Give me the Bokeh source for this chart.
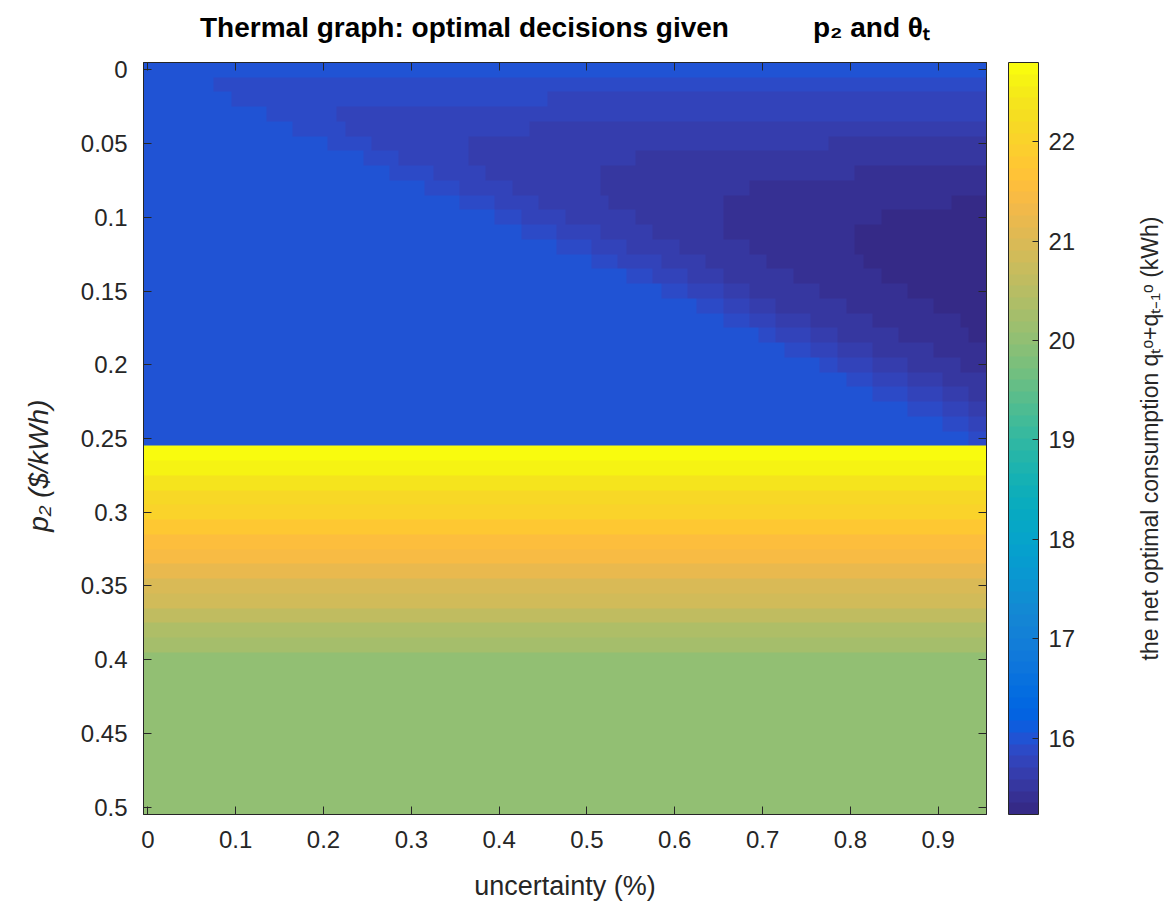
import numpy as np
from bokeh.plotting import figure
from bokeh.layouts import row
from bokeh.models import (LinearColorMapper, ColorBar, FixedTicker, Range1d,
                          LinearAxis)
from bokeh.embed import file_html
from bokeh.resources import INLINE

# ---------------- data ----------------
uncertainty = [round(0.01 * i, 2) for i in range(96)]   # 0 .. 0.95 (grid columns)
p2 = [round(0.01 * j, 2) for j in range(51)]            # 0 .. 0.50 (grid rows)

# p2 = 0 .. 0.25 : consumption levels (kWh), lightest blue -> darkest
blue_levels = [16.00, 15.88, 15.76, 15.64, 15.53, 15.41, 15.29]
# for every p2 row 0 .. 0.25: uncertainty at which each darker level begins (None = never)
N = None
start_L1 = [N, .08, .10, .14, .17, .21, .25, .28, .32, .36, .40, .43, .47, .51, .55, .59, .63, .66, .70, .73, .77, .80, .83, .87, .91, .94]
start_L2 = [N, N, .46, .22, .23, .26, .29, .33, .36, .40, .43, .47, .51, .54, .58, .62, .66, .69, .72, .76, .79, .83, .87, .91, .94, N]
start_L3 = [N, N, N, N, .44, .37, .37, .39, .42, .45, .48, .52, .55, .59, .62, .66, .69, .72, .76, .79, .83, .87, .91, .94, N, N]
start_L4 = [N, N, N, N, N, .78, .56, .52, .52, .53, .56, .58, .61, .64, .66, .69, .72, .76, .79, .83, .87, .91, .94, N, N, N]
start_L5 = [N, N, N, N, N, N, N, .81, .69, .66, .66, .66, .69, .71, .74, .77, .80, .83, .86, .90, .93, N, N, N, N, N]
start_L6 = [N, N, N, N, N, N, N, N, N, .92, .84, .81, .81, .82, .84, .87, .90, .93, .94, N, N, N, N, N, N, N]

# p2 = 0.26 .. 0.50 : consumption (kWh), same for every uncertainty
high_price = [22.74, 22.62, 22.39, 22.15, 22.03, 21.79, 21.56, 21.44, 21.20,
              20.97, 20.85, 20.61, 20.37, 20.26,
              20.02, 20.02, 20.02, 20.02, 20.02, 20.02, 20.02, 20.02, 20.02, 20.02, 20.02]

cbar_low, cbar_high = 15.23, 22.80
cbar_ticks = [16, 17, 18, 19, 20, 21, 22]
x_ticks = [0, 0.1, 0.2, 0.3, 0.4, 0.5, 0.6, 0.7, 0.8, 0.9]
y_ticks = [0, 0.05, 0.1, 0.15, 0.2, 0.25, 0.3, 0.35, 0.4, 0.45, 0.5]

title_text = "Thermal graph: optimal decisions given\u2003\u2003\u2003p\u2082 and \u03b8\u209c"
x_label = "uncertainty (%)"
y_label = "p\u2082 ($/kWh)" + "\u00a0" * 7
cbar_label = "the net optimal consumption q\u209c\u1d52+q\u209c\u208b\u2081\u1d52 (kWh)"

# MATLAB parula (64 colours)
parula = [
    "#352a87", "#363093", "#3637a0", "#353dad", "#3243ba", "#2c4ac7", "#2053d4", "#0f5cdd",
    "#0363e1", "#0268e1", "#046de0", "#0871de", "#0d75dc", "#1079da", "#127dd8", "#1381d6",
    "#1485d4", "#1389d3", "#108ed2", "#0c93d2", "#0998d1", "#079ccf", "#06a0cd", "#06a4ca",
    "#06a7c6", "#07a9c2", "#0aacbe", "#0faeb9", "#15b1b4", "#1db3af", "#25b5a9", "#2eb7a4",
    "#38b99e", "#42bb98", "#4dbc92", "#59bd8c", "#65be86", "#71bf80", "#7cbf7b", "#87bf77",
    "#92bf73", "#9cbf6f", "#a5be6b", "#aebe67", "#b7bd64", "#c0bc60", "#c8bc5d", "#d1bb59",
    "#d9ba56", "#e1b952", "#e9b94e", "#f1b94a", "#f8bb44", "#fdbe3d", "#ffc337", "#fec832",
    "#fcce2e", "#fad32a", "#f7d826", "#f5de21", "#f5e41d", "#f5eb18", "#f6f313", "#f9fb0e",
]

# ---------------- build the grid ----------------
starts = [start_L1, start_L2, start_L3, start_L4, start_L5, start_L6]
Z = []
for j in range(len(p2)):
    if j < len(start_L1):
        row_vals = []
        for x in uncertainty:
            lvl = sum(1 for s in starts if s[j] is not None and x >= s[j] - 1e-9)
            row_vals.append(blue_levels[lvl])
    else:
        row_vals = [high_price[j - len(start_L1)]] * len(uncertainty)
    Z.append(row_vals)
Z = np.array(Z, dtype=float)

dx = uncertainty[1] - uncertainty[0]
dy = p2[1] - p2[0]
x0 = uncertainty[0] - dx / 2
y0 = p2[0] - dy / 2
dw = len(uncertainty) * dx
dh = len(p2) * dy

FONT = "Liberation Sans"
AX = "#262626"
H = 906

p = figure(width=1130, height=H, output_backend="svg", toolbar_location=None,
           x_range=Range1d(x0, x0 + dw), y_range=Range1d(y0 + dh, y0),
           min_border_left=143, min_border_right=144, min_border_top=62,
           min_border_bottom=H - 62 - 752)
p.outline_line_color = AX
p.outline_line_width = 1
p.grid.visible = False

mapper = LinearColorMapper(palette=parula, low=cbar_low, high=cbar_high)
p.image(image=[Z], x=x0, y=y0, dw=dw, dh=dh, color_mapper=mapper)

def style_axis(ax, ticks, show_labels=True):
    ax.ticker = FixedTicker(ticks=ticks)
    ax.axis_line_color = AX
    ax.major_tick_line_color = AX
    ax.major_tick_in = 8
    ax.major_tick_out = 0
    ax.minor_tick_line_color = None
    ax.major_label_text_font = FONT
    if show_labels:
        ax.major_label_overrides = {t: f"{t:g}" for t in ticks}
        ax.major_label_text_font_size = "24px"
        ax.major_label_text_color = AX
    else:
        ax.major_label_text_font_size = "0px"
        ax.major_label_text_color = None
        ax.major_label_standoff = 0

style_axis(p.xaxis[0], x_ticks)
style_axis(p.yaxis[0], y_ticks)
p.xaxis.major_label_standoff = 16
p.yaxis.major_label_standoff = 16
p.xaxis.axis_label = x_label
p.xaxis.axis_label_text_font = FONT
p.xaxis.axis_label_text_font_size = "27px"
p.xaxis.axis_label_text_font_style = "normal"
p.xaxis.axis_label_text_color = AX
p.xaxis.axis_label_standoff = 20
p.yaxis.axis_label = y_label
p.yaxis.axis_label_text_font = FONT
p.yaxis.axis_label_text_font_size = "28px"
p.yaxis.axis_label_text_font_style = "italic"
p.yaxis.axis_label_text_color = AX
p.yaxis.axis_label_standoff = 24

# mirrored top axis (ticks only) carrying the chart title
top_ax = LinearAxis()
style_axis(top_ax, x_ticks, show_labels=False)
top_ax.axis_label = title_text
top_ax.axis_label_text_font = FONT
top_ax.axis_label_text_font_size = "28px"
top_ax.axis_label_text_font_style = "bold"
top_ax.axis_label_text_color = "black"
top_ax.axis_label_standoff = 20
p.add_layout(top_ax, "above")
right_ax = LinearAxis()
style_axis(right_ax, y_ticks, show_labels=False)
p.add_layout(right_ax, "right")

cb = ColorBar(color_mapper=mapper, ticker=FixedTicker(ticks=cbar_ticks),
              width=30, padding=0, margin=0, location=(22, 0),
              bar_line_color=AX, major_tick_line_color=AX,
              major_tick_in=6, major_tick_out=0, label_standoff=10,
              major_label_text_font=FONT, major_label_text_font_size="24px",
              major_label_text_color=AX, background_fill_alpha=0,
              border_line_color=None)
p.add_layout(cb, "right")

# narrow companion figure that only carries the colour-bar title (reads bottom-to-top)
lab = figure(width=36, height=H, output_backend="svg", toolbar_location=None,
             x_range=Range1d(0, 1), y_range=Range1d(0, 1),
             min_border_left=34, min_border_right=0, min_border_top=62,
             min_border_bottom=H - 62 - 752)
lab.outline_line_color = None
lab.grid.visible = False
lab.xaxis.visible = False
lab.yaxis.ticker = FixedTicker(ticks=[])
lab.yaxis.axis_line_color = None
lab.yaxis.major_tick_line_color = None
lab.yaxis.minor_tick_line_color = None
lab.yaxis.axis_label = cbar_label
lab.yaxis.axis_label_text_font = FONT
lab.yaxis.axis_label_text_font_size = "23px"
lab.yaxis.axis_label_text_font_style = "normal"
lab.yaxis.axis_label_text_color = AX
lab.yaxis.axis_label_standoff = 2

layout = row(p, lab)
open("out.html", "w").write(file_html(layout, INLINE))
